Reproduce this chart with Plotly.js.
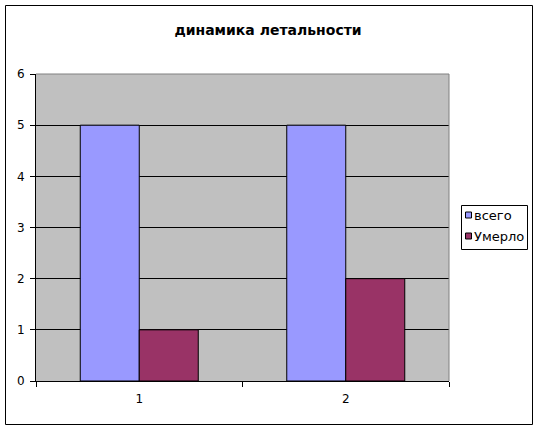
<!DOCTYPE html>
<html>
<head>
<meta charset="utf-8">
<script src="https://cdn.plot.ly/plotly-3.0.1.min.js"></script>
<style>html,body{margin:0;padding:0;background:#fff;}#chart{width:538px;height:429px;}</style>
</head>
<body>
<div id="chart"></div>
<script>
const categories = ['1', '2'];
const seriesNames = ['всего', 'Умерло'];
const seriesColors = ['#9999FF', '#993366'];
const vsego = [5, 5];
const umerlo = [1, 2];
const yTicks = [0, 1, 2, 3, 4, 5, 6];
const chartTitle = 'динамика летальности';

const font = 'DejaVu Sans, Verdana, sans-serif';
const traces = [
  {type: 'bar', name: seriesNames[0], x: categories, y: vsego,
   marker: {color: seriesColors[0], line: {color: '#000', width: 1}}, hoverinfo: 'none'},
  {type: 'bar', name: seriesNames[1], x: categories, y: umerlo,
   marker: {color: seriesColors[1], line: {color: '#000', width: 1}}, hoverinfo: 'none'}
];
const L = 36, R = 449, T = 74, B = 381, W = 538, H = 429;
const pw = R - L, ph = B - T;
const px = v => (v - L) / pw, py = v => (B - v) / ph;

const shapes = [
  {type: 'line', xref: 'paper', yref: 'paper', x0: 0, x1: 1, y0: 1, y1: 1, line: {color: '#808080', width: 1}, layer: 'above'},
  {type: 'line', xref: 'paper', yref: 'paper', x0: 1, x1: 1, y0: 0, y1: 1, line: {color: '#808080', width: 1}, layer: 'above'},
  {type: 'rect', xref: 'paper', yref: 'paper', x0: px(5.5), x1: px(532.5), y0: py(424.5), y1: py(5.5),
   line: {color: '#000', width: 1}, fillcolor: 'rgba(0,0,0,0)', layer: 'above'},
  {type: 'rect', xref: 'paper', yref: 'paper', x0: px(461.5), x1: px(527.5), y0: py(249.5), y1: py(205.5),
   line: {color: '#000', width: 1}, fillcolor: '#fff', layer: 'above'}
];
const annotations = [];
const legendRows = [215, 236];
seriesNames.forEach((n, i) => {
  const cy = legendRows[i];
  shapes.push({type: 'rect', xref: 'paper', yref: 'paper', x0: px(465.5), x1: px(471.5), y0: py(cy + 3), y1: py(cy - 3),
    line: {color: '#000', width: 1}, fillcolor: seriesColors[i], layer: 'above'});
  annotations.push({xref: 'paper', yref: 'paper', x: px(473), y: py(cy), xanchor: 'left', yanchor: 'middle',
    text: n, showarrow: false, font: {family: font, size: 13, color: '#000'}, borderpad: 0});
});

const layout = {
  width: W, height: H,
  margin: {l: L, r: W - R, t: T, b: H - B, pad: 0, autoexpand: false},
  paper_bgcolor: '#fff', plot_bgcolor: '#C0C0C0',
  font: {family: font, size: 12, color: '#000'},
  title: {text: '<b>' + chartTitle + '</b>', font: {family: font, size: 14, color: '#000'},
          xref: 'container', yref: 'container', x: 268 / W, y: 1 - 30 / H, xanchor: 'center', yanchor: 'middle'},
  barmode: 'group', bargap: 1.5 / 3.5, bargroupgap: 0,
  xaxis: {type: 'category', tickson: 'boundaries', ticks: 'outside', ticklen: 5, tickcolor: '#000', tickwidth: 1,
          showline: true, linecolor: '#000', linewidth: 1, showgrid: false, zeroline: false,
          ticklabelstandoff: 7, tickfont: {family: font, size: 12}, fixedrange: true},
  yaxis: {range: [0, 6], tickvals: yTicks, ticks: 'outside', ticklen: 5, tickcolor: '#000', tickwidth: 1,
          showline: true, linecolor: '#000', linewidth: 1, showgrid: true, gridcolor: '#000', gridwidth: 1,
          zeroline: false, ticklabelstandoff: 3, tickfont: {family: font, size: 12}, fixedrange: true},
  showlegend: false,
  shapes: shapes,
  annotations: annotations
};
Plotly.newPlot('chart', traces, layout, {displayModeBar: false, staticPlot: true});
</script>
</body>
</html>
